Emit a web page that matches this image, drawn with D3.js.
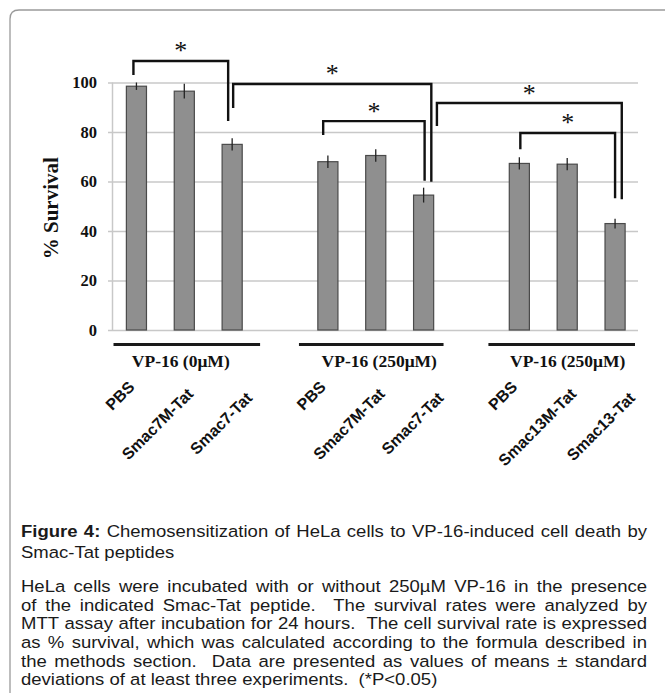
<!DOCTYPE html>
<html>
<head>
<meta charset="utf-8">
<script src="https://cdn.jsdelivr.net/npm/d3@7"></script>
<style>
  html, body { margin: 0; padding: 0; background: #fff; }
  svg { display: block; }
</style>
</head>
<body>
<svg id="chart" width="665" height="693"></svg>
<script>
// ---------- data ----------
const categories = ["PBS", "Smac7M-Tat", "Smac7-Tat", "PBS", "Smac7M-Tat", "Smac7-Tat", "PBS", "Smac13M-Tat", "Smac13-Tat"];
const survival   = [98.5, 96.5, 75.0, 68.0, 70.5, 54.5, 67.3, 67.0, 43.0];
const errors     = [1.5, 3.0, 2.5, 2.5, 2.5, 3.0, 2.5, 2.5, 2.0];
const groupLabels = ["VP-16 (0\u03bcM)", "VP-16 (250\u03bcM)", "VP-16 (250\u03bcM)"];
const yTicks = [0, 20, 40, 60, 80, 100];
// significance brackets: [fromBar, toBar, topValue, leftEndValue, rightEndValue]
const brackets = [
  [0, 2, 108.7, 103.0, 84.4],
  [2, 5, 99.4, 89.7, 59.9],
  [3, 5, 84.4, 78.8, 60.3],
  [5, 8, 91.7, 82.4, 52.8],
  [6, 8, 79.6, 73.0, 53.2]
];
const captionLines = [
  "Figure 4: Chemosensitization of HeLa cells to VP-16-induced cell death by",
  "Smac-Tat peptides",
  "HeLa cells were incubated with or without 250\u00b5M VP-16 in the presence",
  "of the indicated Smac-Tat peptide.  The survival rates were analyzed by",
  "MTT assay after incubation for 24 hours.  The cell survival rate is expressed",
  "as % survival, which was calculated according to the formula described in",
  "the methods section.  Data are presented as values of means \u00b1 standard",
  "deviations of at least three experiments.  (*P<0.05)"
];
const captionBold = "Figure 4:";

// ---------- layout ----------
const slotOf = [0, 1, 2, 4, 5, 6, 8, 9, 10];   // empty slots separate the groups
const svg = d3.select("#chart");
const serif = "'Liberation Serif','Times New Roman',serif";
const sans = "'Liberation Sans',Arial,sans-serif";

const x = d3.scaleBand().domain(d3.range(11)).range([112.5, 639]).padding(0);
const y = d3.scaleLinear().domain([0, 100]).range([330, 82.5]);
const cx = i => x(slotOf[i]) + x.bandwidth() / 2;
const barW = x.step() * 0.42;

// frame
svg.append("path")
  .attr("d", "M10,693 L10,19 Q10,10 19,10 L665,10")
  .attr("fill", "none").attr("stroke", "#9a9a9a").attr("stroke-width", 1.3);

// y axis with gridlines
const yAxis = d3.axisLeft(y).tickValues(yTicks).tickSizeInner(-(638 - 108)).tickSizeOuter(0).tickPadding(11);
const gy = svg.append("g").attr("transform", "translate(108,0)").call(yAxis);
gy.select(".domain").remove();
gy.selectAll(".tick line").attr("stroke", "#c8c8c8").attr("stroke-width", 1.5);
gy.selectAll(".tick text")
  .attr("font-family", serif).attr("font-weight", "bold").attr("font-size", 16.5).attr("fill", "#111");
svg.append("line")
  .attr("x1", 112.5).attr("x2", 112.5).attr("y1", y(100)).attr("y2", y(0))
  .attr("stroke", "#c8c8c8").attr("stroke-width", 1.5);

// y title
svg.append("text")
  .attr("transform", `translate(58,${(y(0) + y(100)) / 2 + 2}) rotate(-90)`)
  .attr("text-anchor", "middle")
  .attr("font-family", serif).attr("font-weight", "bold").attr("font-size", 21).attr("fill", "#111")
  .text("% Survival");

// bars
svg.append("g").selectAll("rect").data(survival).join("rect")
  .attr("x", (d, i) => cx(i) - barW / 2)
  .attr("y", d => y(d))
  .attr("width", barW)
  .attr("height", d => y(0) - y(d))
  .attr("fill", "#8f8f8f").attr("stroke", "#4a4a4a").attr("stroke-width", 1.2);

// error bars
svg.append("g").selectAll("line").data(survival).join("line")
  .attr("x1", (d, i) => cx(i)).attr("x2", (d, i) => cx(i))
  .attr("y1", (d, i) => y(d + errors[i])).attr("y2", (d, i) => y(d - errors[i]))
  .attr("stroke", "#222").attr("stroke-width", 1.3);

// brackets
const bracketDX = [[-3, -4], [1, 7.7], [-4.7, 1], [13.3, 6.7], [1, 0]];
const gb = svg.append("g");
brackets.forEach((b, k) => {
  const xl = cx(b[0]) + bracketDX[k][0], xr = cx(b[1]) + bracketDX[k][1];
  gb.append("path")
    .attr("d", `M${xl},${y(b[3])} L${xl},${y(b[2])} L${xr},${y(b[2])} L${xr},${y(b[4])}`)
    .attr("fill", "none").attr("stroke", "#111").attr("stroke-width", 2.4);
  gb.append("text")
    .attr("x", (xl + xr) / 2).attr("y", y(b[2]) - 1.5)
    .attr("text-anchor", "middle")
    .attr("font-family", serif).attr("font-size", 26).attr("fill", "#111")
    .text("*");
});

// group underlines + labels
const groupDX = [[1, 4], [-5, -4], [-7, -4]];
const groupLabelDX = [-6, 8, 6];
groupLabels.forEach((lab, g) => {
  const s0 = slotOf[g * 3], s1 = slotOf[g * 3 + 2];
  const x0 = x(s0) + groupDX[g][0], x1 = x(s1) + x.bandwidth() + groupDX[g][1];
  svg.append("line").attr("x1", x0).attr("x2", x1).attr("y1", 344.5).attr("y2", 344.5)
    .attr("stroke", "#1a1a1a").attr("stroke-width", 3);
  svg.append("text")
    .attr("x", (x0 + x1) / 2 + groupLabelDX[g]).attr("y", 366.5)
    .attr("text-anchor", "middle")
    .attr("font-family", serif).attr("font-weight", "bold").attr("font-size", 17.5).attr("fill", "#111")
    .text(lab);
});

// category labels (rotated)
const labDX = [-1, 10, 21], labY = [388, 395, 399];
svg.append("g").selectAll("text").data(categories).join("text")
  .attr("transform", (d, i) => `translate(${cx(i) + labDX[i % 3]},${labY[i % 3]}) rotate(-45)`)
  .attr("text-anchor", "end")
  .attr("font-family", sans).attr("font-weight", "bold").attr("font-size", 16).attr("fill", "#111")
  .text(d => d);

// caption with justification (slightly widened glyphs)
const capSize = 17, capLeft = 21, capRight = 647, capSX = 1.09;
const capY = [537, 558, 592, 610.7, 629.4, 648.1, 666.8, 685.5];
const justify = [true, false, true, true, true, true, true, false];
const cap = svg.append("g").attr("transform", `translate(${capLeft},0) scale(${capSX},1)`);
const capW = (capRight - capLeft) / capSX;
const meas = cap.append("text").attr("font-family", sans).attr("font-size", capSize).style("visibility", "hidden");
const tw = (s, bold) => { meas.attr("font-weight", bold ? "bold" : "normal").text(s); return meas.node().getComputedTextLength(); };
const spaceW = tw("x x") - tw("xx");
const boldWords = captionBold.split(" ");
captionLines.forEach((line, li) => {
  const words = line.split(" ");
  const toks = words.map((w, wi) => ({ t: w, bold: li === 0 && wi < boldWords.length && boldWords[wi] === w }));
  toks.forEach(t => t.w = t.t ? tw(t.t, t.bold) : 0);
  const gaps = toks.length - 1;
  const natural = d3.sum(toks, t => t.w) + gaps * spaceW;
  const gapW = justify[li] ? Math.max(spaceW * 0.8, (capW - natural) / gaps + spaceW) : spaceW;
  let xp = 0;
  toks.forEach(t => {
    if (t.t) {
      cap.append("text").attr("x", xp).attr("y", capY[li])
        .attr("font-family", sans).attr("font-size", capSize)
        .attr("font-weight", t.bold ? "bold" : "normal").attr("fill", "#1a1a1a")
        .text(t.t);
    }
    xp += t.w + gapW;
  });
});
meas.remove();
</script>
</body>
</html>
